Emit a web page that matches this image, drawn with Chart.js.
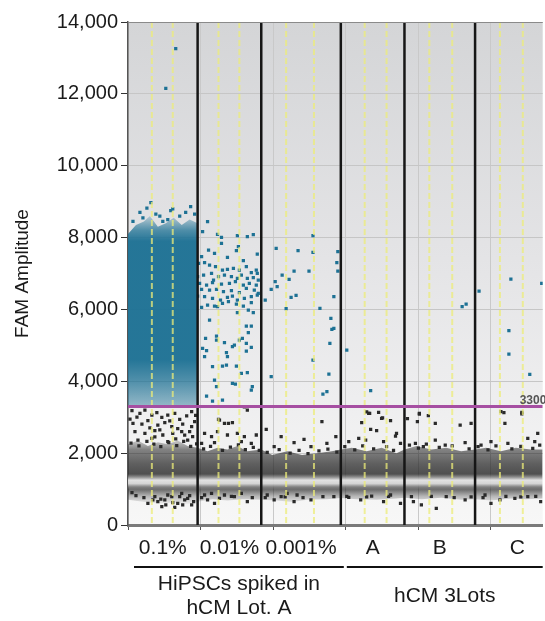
<!DOCTYPE html>
<html>
<head>
<meta charset="utf-8">
<script src="https://cdn.jsdelivr.net/npm/chart.js@4.4.1/dist/chart.umd.min.js"></script>
<style>
  html, body { margin: 0; padding: 0; background: #fff; }
</style>
</head>
<body>
<canvas id="chart" width="545" height="621"></canvas>
<script>
// wells (x = droplet event index, the last well runs past the visible window)
const wellNames = ['0.1%', '0.01%', '0.001%', 'A', 'B', 'C'];
const wellEdges = [0, 70, 134, 214, 278, 349, 434];
const replicateLines = [24, 45, 91, 112, 159, 187, 238, 260, 303, 326, 374, 397];
const eventTicks = [0, 73, 146, 219, 292, 365];
const groupLabels = [['HiPSCs spiked in', 'hCM Lot. A'], ['hCM 3Lots']];
const groupWells = [[0, 2], [3, 5]];
const threshold = 3300;

// dense positive cloud of the 0.1% well (upper and lower edge)
const blueTop = [[0, 8100], [8, 8350], [16, 8450], [22, 8600], [30, 8300], [38, 8400], [46, 8550], [54, 8350], [62, 8500], [70, 8400]];
const blueBottom = [[0, 3340], [70, 3340]];

// dense negative band (upper and lower edge)
const negTop = [[0, 2250], [10, 2350], [20, 2200], [30, 2300], [40, 2250], [50, 2350], [60, 2200], [70, 2150], [80, 2050], [90, 2150],
  [100, 2100], [110, 2200], [120, 2050], [134, 2100], [145, 1950], [160, 2050], [175, 1950], [190, 2000], [205, 2050], [214, 2100],
  [225, 2150], [240, 2050], [255, 2150], [270, 2000], [278, 2100], [290, 2200], [305, 2100], [320, 2150], [335, 2050], [349, 2100],
  [360, 2150], [375, 2050], [390, 2150], [405, 2100], [417, 2100]];
const negBottom = [[0, 700], [15, 650], [30, 600], [45, 620], [60, 580], [70, 650], [85, 720], [100, 680], [115, 720], [134, 700],
  [150, 680], [165, 640], [180, 700], [200, 720], [214, 750], [230, 720], [250, 700], [270, 740], [278, 760], [295, 720],
  [315, 760], [335, 700], [349, 720], [365, 680], [385, 740], [400, 720], [417, 740]];

// positive droplets outside the dense cloud
const posWell1 = [[38, 12150], [48, 13260], [23, 8970], [19, 8820], [43, 8750], [32, 8600], [63, 8860], [12, 8700],
  [5, 8450], [15, 8550], [28, 8650], [40, 8500], [52, 8600], [58, 8700], [67, 8650], [45, 8800], [35, 8450]];
const posWell2 = [[80, 8441], [75, 8163], [90, 8090], [94, 8007], [94, 7840], [110, 8052], [120, 8024], [126, 8080], [111, 7745],
  [81, 7653], [87, 7560], [109, 7635], [130, 7542], [74, 7467], [100, 7450], [116, 7356],
  [71, 7282], [77, 7300], [82, 7236], [88, 7189], [95, 7097], [100, 7115], [106, 7143], [112, 7097], [119, 7189], [124, 7022],
  [129, 7097], [130, 7004], [70, 6911], [76, 6958], [84, 7004], [86, 6818], [91, 6911], [97, 6958], [104, 6911], [110, 6865],
  [114, 6958], [120, 6865], [126, 6883], [131, 6818], [72, 6726], [79, 6679], [85, 6745], [94, 6707], [102, 6726], [108, 6772],
  [116, 6679], [122, 6726], [129, 6679], [74, 6559], [82, 6540], [89, 6559], [96, 6494], [104, 6521], [112, 6466], [119, 6587],
  [127, 6540], [131, 6448], [70, 6373], [77, 6355], [85, 6308], [93, 6262], [100, 6336], [105, 6373], [110, 6262], [117, 6308],
  [124, 6355], [130, 6401], [80, 6123], [87, 6095], [95, 6169], [101, 6215], [109, 6150], [116, 6095], [124, 6187], [74, 6057],
  [90, 6076], [110, 5910], [121, 5984], [126, 5910], [82, 5705], [119, 5538], [124, 5538], [121, 5353], [78, 5195], [89, 5260],
  [89, 5149], [115, 5195], [112, 5149], [97, 5074], [105, 4963], [107, 5009], [119, 5056], [124, 4945], [75, 4916], [79, 4852],
  [99, 4796], [119, 4842], [77, 4685], [100, 4685], [109, 4425], [85, 4407], [95, 4425], [99, 4453], [114, 4221], [120, 4240],
  [87, 4035], [105, 3943], [108, 3924], [125, 3850], [124, 3757], [89, 3850], [79, 3590], [85, 3451], [95, 3479]];
const posWell3 = [[149, 7700], [171, 7634], [186, 8052], [186, 7588], [155, 6958], [162, 6838], [167, 7069], [182, 7069], [148, 6772],
  [150, 6633], [144, 6559], [169, 6392], [164, 6337], [138, 6262], [159, 6020], [193, 6030], [186, 4592], [144, 4127], [202, 4202],
  [196, 3646], [200, 3710], [204, 5752], [205, 5446], [203, 5057], [207, 6354], [211, 7607], [210, 7300], [211, 7069], [207, 5474]];
const posLots = [[220, 4870], [244, 3738], [336, 6076], [340, 6150], [353, 6512], [385, 6846], [383, 5408], [383, 4759], [404, 4193], [416, 6726]];

// negative droplets outside the dense band
const negUpper = [[4, 3182], [12, 3108], [17, 3200], [24, 3061], [29, 3126], [34, 2997], [40, 3061], [47, 3108], [52, 2941], [59, 3034],
  [64, 3154], [67, 2876], [5, 2829], [14, 2811], [20, 2904], [30, 2783], [37, 2848], [44, 2737], [55, 2811], [64, 2737], [7, 2597],
  [17, 2551], [27, 2625], [35, 2505], [45, 2551], [54, 2597], [65, 2458], [10, 2365], [24, 2412], [40, 2319], [60, 2365],
  [2, 2950], [9, 3000], [22, 2700], [32, 2650], [42, 2900], [50, 2680], [57, 2500], [62, 2600], [68, 3050], [27, 2450], [48, 2400],
  [92, 2922], [97, 2829], [105, 2848], [120, 3200], [77, 2551], [84, 2458], [90, 2597], [100, 2505], [110, 2551], [117, 2458],
  [129, 2505], [74, 2273], [87, 2291], [114, 2319], [124, 2273], [91, 2940], [101, 2830], [117, 3290],
  [139, 2662], [154, 2458], [167, 2291], [177, 2384], [195, 2876], [200, 2273], [209, 2458], [147, 2180], [184, 2180],
  [235, 2848], [242, 3108], [252, 3136], [255, 2969], [264, 2904], [244, 2662], [250, 2625], [270, 2551], [269, 2477], [239, 2365],
  [222, 2319], [232, 2412], [257, 2319], [274, 2273], [240, 3150], [243, 3110], [256, 2980],
  [281, 2959], [291, 2876], [293, 3089], [302, 3043], [309, 2829], [334, 2783], [345, 2829], [309, 2365], [289, 2273], [319, 2226],
  [339, 2291], [297, 2180], [293, 3110],
  [375, 3154], [379, 2829], [396, 3136], [412, 2551], [402, 2412], [365, 2319], [382, 2273], [409, 2319], [355, 2226], [378, 3130], [396, 3090]];
const negEdgeTop = [[3, 2280], [11, 2200], [19, 2330], [26, 2250], [33, 2180], [41, 2290], [49, 2210], [56, 2330], [63, 2190], [69, 2260],
  [76, 2120], [83, 2190], [95, 2080], [103, 2170], [111, 2230], [118, 2100], [126, 2160], [132, 2080], [140, 2020], [152, 2100],
  [163, 2000], [172, 2080], [181, 1990], [192, 2060], [201, 2110], [210, 2030], [218, 2180], [228, 2090], [236, 2200], [247, 2120],
  [260, 2180], [267, 2080], [283, 2220], [292, 2140], [300, 2250], [313, 2160], [326, 2200], [343, 2120], [352, 2180], [362, 2090],
  [370, 2200], [386, 2120], [395, 2190], [407, 2130], [414, 2220]];
const negEdgeBottom = [[8, 820], [16, 760], [33, 720], [52, 790], [62, 820], [74, 760], [92, 740], [104, 800], [125, 760], [138, 760],
  [158, 780], [176, 760], [196, 790], [220, 800], [240, 780], [262, 800], [285, 790], [305, 800], [328, 760], [345, 780], [357, 760],
  [380, 800], [395, 780], [410, 800]];
const negLower = [[4, 900], [27, 788], [30, 649], [37, 696], [44, 788], [50, 603], [57, 696], [64, 557], [34, 510], [47, 492], [60, 742],
  [40, 835], [54, 881], [20, 600], [25, 700], [55, 560], [66, 650], [45, 620], [38, 560],
  [77, 835], [80, 696], [87, 603], [97, 835], [107, 788], [120, 649], [84, 881], [114, 881],
  [140, 835], [147, 696], [154, 788], [167, 649], [170, 835], [184, 696], [207, 788], [160, 881],
  [222, 770], [234, 696], [264, 835], [274, 603], [245, 807], [257, 649],
  [287, 649], [310, 464], [295, 557], [320, 788], [339, 696],
  [359, 835], [365, 603], [374, 696], [402, 788], [415, 649], [389, 742]];

const FONT = '"Liberation Sans", Arial, sans-serif';
const BLUE = '#1d7194';
const DARK = '#2a2a2a';
const xy = arr => arr.map(([x, y]) => ({ x, y }));

function valueGradient(chart, stops, fallback) {
  const { ctx, chartArea, scales } = chart;
  if (!chartArea || !scales.y) return fallback;
  const y = scales.y;
  const top = y.getPixelForValue(stops[0][0]);
  const bottom = y.getPixelForValue(stops[stops.length - 1][0]);
  const g = ctx.createLinearGradient(0, top, 0, bottom);
  stops.forEach(([v, c]) => g.addColorStop((y.getPixelForValue(v) - top) / (bottom - top), c));
  return g;
}

const blueStops = [[8650, 'rgba(29,113,148,0.15)'], [8200, 'rgba(29,113,148,0.75)'], [7900, 'rgba(29,113,148,0.96)'],
  [4600, 'rgba(29,113,148,0.96)'], [4000, 'rgba(29,113,148,0.75)'], [3340, 'rgba(29,113,148,0.45)']];
const negStops = [[2350, 'rgba(38,38,38,0.2)'], [2100, 'rgba(38,38,38,0.55)'], [1700, 'rgba(38,38,38,0.72)'],
  [1420, 'rgba(38,38,38,0.8)'], [1340, 'rgba(120,120,120,0.85)'], [1250, 'rgba(225,225,225,0.95)'],
  [1150, 'rgba(210,210,210,0.95)'], [1060, 'rgba(110,110,110,0.85)'], [980, 'rgba(38,38,38,0.65)'],
  [800, 'rgba(38,38,38,0.3)'], [550, 'rgba(38,38,38,0.0)']];

const plotDecor = {
  id: 'plotDecor',
  beforeDraw(chart) {
    const { ctx, chartArea: a } = chart;
    const g = ctx.createLinearGradient(0, a.top, 0, a.bottom);
    g.addColorStop(0, '#d4d5d7');
    g.addColorStop(0.5, '#e5e5e7');
    g.addColorStop(1, '#f7f7f7');
    ctx.save();
    ctx.fillStyle = g;
    ctx.fillRect(a.left, a.top, a.right - a.left, a.bottom - a.top);
    ctx.restore();
  },
  afterDatasetsDraw(chart) {
    const { ctx, chartArea: a, scales: { x, y } } = chart;
    ctx.save();
    ctx.beginPath();
    ctx.rect(a.left, a.top, a.right - a.left, a.bottom - a.top);
    ctx.clip();
    // replicate separators
    ctx.strokeStyle = 'rgba(236,236,120,0.75)';
    ctx.lineWidth = 2;
    ctx.setLineDash([6, 3]);
    replicateLines.forEach(v => {
      const px = x.getPixelForValue(v);
      ctx.beginPath(); ctx.moveTo(px, a.top); ctx.lineTo(px, a.bottom); ctx.stroke();
    });
    ctx.setLineDash([]);
    // well separators
    ctx.strokeStyle = '#161616';
    ctx.lineWidth = 2.5;
    wellEdges.slice(1, -1).forEach(v => {
      const px = x.getPixelForValue(v);
      ctx.beginPath(); ctx.moveTo(px, a.top); ctx.lineTo(px, a.bottom); ctx.stroke();
    });
    // threshold
    const ty = y.getPixelForValue(threshold);
    ctx.strokeStyle = '#a64fa2';
    ctx.lineWidth = 3;
    ctx.beginPath(); ctx.moveTo(a.left, ty); ctx.lineTo(a.right, ty); ctx.stroke();
    ctx.restore();
    ctx.save();
    ctx.fillStyle = '#555';
    ctx.font = 'bold 12px ' + FONT;
    ctx.textBaseline = 'alphabetic';
    ctx.fillText(String(threshold), a.right - 23, ty - 2);
    // top border
    ctx.strokeStyle = '#8a8a8a';
    ctx.lineWidth = 1;
    ctx.beginPath(); ctx.moveTo(a.left, a.top + 0.5); ctx.lineTo(a.right, a.top + 0.5); ctx.stroke();
    ctx.restore();
  },
  afterDraw(chart) {
    const { ctx, chartArea: a, scales: { x } } = chart;
    ctx.save();
    ctx.fillStyle = '#1a1a1a';
    ctx.font = '21px ' + FONT;
    ctx.textAlign = 'center';
    ctx.textBaseline = 'middle';
    wellNames.forEach((name, i) => {
      ctx.fillText(name, x.getPixelForValue((wellEdges[i] + wellEdges[i + 1]) / 2), 548);
    });
    groupWells.forEach(([s, e], gi) => {
      const x0 = x.getPixelForValue(wellEdges[s]) + 6;
      const x1 = Math.min(x.getPixelForValue(wellEdges[e + 1]) + 3, a.right);
      ctx.strokeStyle = '#111';
      ctx.lineWidth = 2;
      ctx.beginPath(); ctx.moveTo(x0, 567); ctx.lineTo(x1, 567); ctx.stroke();
      const lines = groupLabels[gi];
      const cy = lines.length > 1 ? 584 : 596;
      lines.forEach((t, li) => ctx.fillText(t, (x0 + x1) / 2, cy + li * 24));
    });
    ctx.restore();
  }
};

new Chart(document.getElementById('chart'), {
  type: 'scatter',
  data: {
    datasets: [
      { label: 'Positive', data: xy([...posWell1, ...posWell2, ...posWell3, ...posLots]), backgroundColor: BLUE },
      { label: 'Negative', data: xy([...negUpper, ...negEdgeTop, ...negEdgeBottom, ...negLower]), backgroundColor: DARK },
      {
        type: 'line', label: 'Positive cloud', data: xy(blueTop), fill: '+1', pointRadius: 0, borderWidth: 0,
        backgroundColor: c => valueGradient(c.chart, blueStops, BLUE)
      },
      { type: 'line', label: 'Positive cloud base', data: xy(blueBottom), pointRadius: 0, borderWidth: 0, fill: false },
      {
        type: 'line', label: 'Negative band', data: xy(negTop), fill: '+1', pointRadius: 0, borderWidth: 0,
        backgroundColor: c => valueGradient(c.chart, negStops, DARK)
      },
      { type: 'line', label: 'Negative band base', data: xy(negBottom), pointRadius: 0, borderWidth: 0, fill: false }
    ]
  },
  options: {
    responsive: false,
    animation: false,
    devicePixelRatio: 1,
    layout: { padding: { top: 22, right: 0, bottom: 0, left: 0 } },
    elements: { point: { pointStyle: 'rect', radius: 2.3, borderWidth: 0, hoverRadius: 2.3 } },
    plugins: { legend: { display: false }, tooltip: { enabled: false } },
    scales: {
      x: {
        type: 'linear', min: 0, max: 417,
        afterBuildTicks: s => { s.ticks = eventTicks.map(v => ({ value: v })); },
        afterFit: s => { s.height = 96; },
        ticks: { display: false },
        grid: { color: '#c9c9c9', tickColor: '#555', tickLength: 5 },
        border: { color: '#7a7a7a', width: 3 }
      },
      y: {
        min: 0, max: 14000,
        afterFit: s => { s.width = 128; },
        ticks: { stepSize: 2000, color: '#1a1a1a', font: { family: FONT, size: 20 }, padding: 3 },
        grid: { color: '#c6c6c6', tickColor: '#333', tickLength: 7 },
        border: { color: '#555', width: 1.5 },
        title: { display: true, text: 'FAM Amplitude', color: '#1a1a1a', font: { family: FONT, size: 19 }, padding: { top: 11, bottom: 0 } }
      }
    }
  },
  plugins: [plotDecor]
});
</script>
</body>
</html>
